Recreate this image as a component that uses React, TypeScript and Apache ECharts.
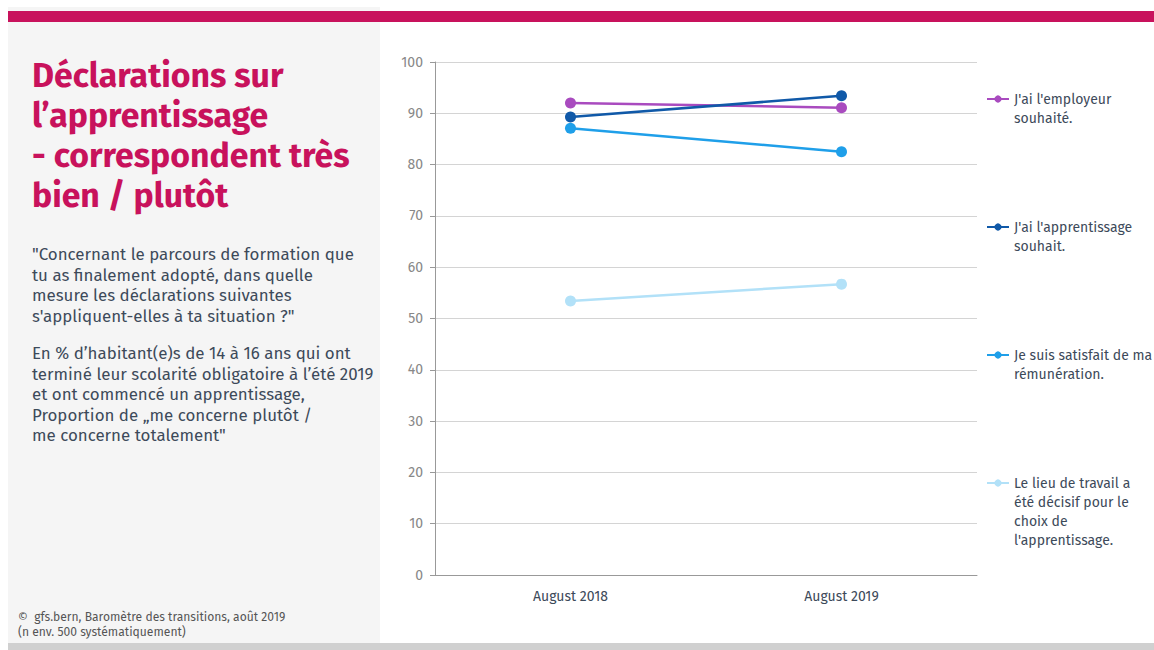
import React, { useEffect, useRef } from "react";
import * as echarts from "echarts";

const categories = ["August 2018", "August 2019"];
const seriesNames = [
  "J'ai l'employeur\nsouhaité.",
  "J'ai l'apprentissage\nsouhait.",
  "Je suis satisfait de ma\nrémunération.",
  "Le lieu de travail a\nété décisif pour le\nchoix de\nl'apprentissage.",
];
const employeur = [92.0, 91.1];
const apprentissage = [89.3, 93.4];
const remuneration = [87.1, 82.5];
const lieu = [53.4, 56.7];
const yTicks = [0, 100, 10];

const colors = ["#a94bbf", "#1059a8", "#1f9fe9", "#b2e1f8"];
const FONT = "'Fira Sans', 'Noto Sans', sans-serif";

export default function App() {
  const ref = useRef<HTMLDivElement>(null);
  useEffect(() => {
    document.body.style.margin = "0";
    const chart = echarts.init(ref.current!, null, { renderer: "svg" });
    const data = [employeur, apprentissage, remuneration, lieu];
    const iconYs = [99, 227, 355, 483];
    const LH = 19;
    chart.setOption({
      animation: false,
      backgroundColor: "#ffffff",
      textStyle: { fontFamily: FONT },
      grid: { left: 435, right: 177, top: 62, bottom: 75 },
      xAxis: {
        type: "category",
        data: categories,
        axisLine: { lineStyle: { color: "#999" } },
        axisTick: { show: false },
        axisLabel: { color: "#3d4a5a", fontSize: 14, margin: 14, fontFamily: FONT },
      },
      yAxis: {
        type: "value",
        min: yTicks[0],
        max: yTicks[1],
        interval: yTicks[2],
        axisLine: { show: true, lineStyle: { color: "#999" } },
        axisTick: { show: true, length: 5, lineStyle: { color: "#999" } },
        axisLabel: { color: "#888", fontSize: 14, margin: 12, fontFamily: FONT },
        splitLine: { lineStyle: { color: "#d4d4d4" } },
      },
      legend: seriesNames.map((n, i) => {
        const lines = n.split("\n").length;
        const h = (2 * lines - 1) * LH;
        return {
          data: [n],
          orient: "vertical",
          left: 986,
          top: iconYs[i] - h / 2,
          padding: 0,
          itemWidth: 22,
          itemHeight: 9,
          formatter: (name: string) => "\n".repeat(name.split("\n").length - 1) + name,
          textStyle: { color: "#3d4a5a", fontSize: 14, lineHeight: LH, fontFamily: FONT },
          selectedMode: false,
        };
      }),
      series: seriesNames.map((n, i) => ({
        name: n,
        type: "line",
        data: data[i],
        color: colors[i],
        symbol: "circle",
        symbolSize: 11,
        lineStyle: { width: 2.5, color: colors[i] },
        itemStyle: { color: colors[i] },
      })),
      graphic: [
        { type: "rect", shape: { x: 8, y: 7, width: 372, height: 636 }, style: { fill: "#f5f5f5" }, z: -10 },
        { type: "rect", shape: { x: 8, y: 11, width: 1146, height: 11 }, style: { fill: "#c8125c" } },
        { type: "rect", shape: { x: 8, y: 643, width: 1146, height: 7 }, style: { fill: "#d0d0d0" } },
        {
          type: "text",
          left: 32,
          top: 55,
          style: {
            text: "Déclarations sur\nl’apprentissage\n- correspondent très\nbien / plutôt",
            fill: "#c8125c",
            font: `bold 33.8px ${FONT}`,
            lineHeight: 40,
          },
        },
        {
          type: "text",
          left: 32,
          top: 244,
          style: {
            text:
              "\"Concernant le parcours de formation que\ntu as finalement adopté, dans quelle\nmesure les déclarations suivantes\ns'appliquent-elles à ta situation ?\"",
            fill: "#3d4a5a",
            font: `16.9px ${FONT}`,
            lineHeight: 20.5,
          },
        },
        {
          type: "text",
          left: 32,
          top: 343,
          style: {
            text:
              "En % d’habitant(e)s de 14 à 16 ans qui ont\nterminé leur scolarité obligatoire à l’été 2019\net ont commencé un apprentissage,\nProportion de „me concerne plutôt /\nme concerne totalement\"",
            fill: "#3d4a5a",
            font: `16.9px ${FONT}`,
            lineHeight: 20.5,
          },
        },
        {
          type: "text",
          left: 18,
          top: 610,
          style: {
            text: "©  gfs.bern, Baromètre des transitions, août 2019\n(n env. 500 systématiquement)",
            fill: "#555",
            font: `12.1px ${FONT}`,
            lineHeight: 14.5,
          },
        },
      ],
    });
    return () => chart.dispose();
  }, []);
  return (
    <div
      ref={ref}
      style={{ position: "absolute", left: 0, top: 0, width: 1154, height: 650 }}
    />
  );
}
